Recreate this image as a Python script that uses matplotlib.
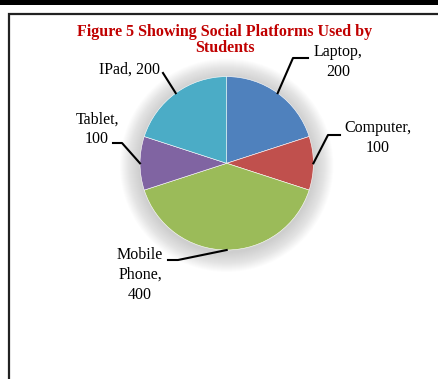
import matplotlib.pyplot as plt
import numpy as np
from matplotlib.patches import Circle, Rectangle

# data
labels = ['Laptop', 'Computer', 'Mobile\nPhone', 'Tablet', 'IPad']
values = [200, 100, 400, 100, 200]
colors = ['#4F81BD', '#C0504D', '#9BBB59', '#8064A2', '#4BACC6']
title_lines = ['Figure 5 Showing Social Platforms Used by', 'Students']

W, H = 439, 379
fig = plt.figure(figsize=(W / 100, H / 100), dpi=100)
ax = fig.add_axes([0, 0, 1, 1])
ax.set_xlim(0, W)
ax.set_ylim(0, H)
ax.set_aspect('equal')
ax.axis('off')

def Y(y):
    # pixel row from top -> data y
    return H - y

# page decoration: black band + frame
ax.add_patch(Rectangle((0, Y(4.5)), W, 4.5, color='black', lw=0))
ax.plot([9, 9, W + 5], [Y(H + 5), Y(14), Y(14)], color='#222222', lw=1.6,
        solid_joinstyle='miter')

cx, cy, r = 226.7, Y(163.3), 86.7

# soft glow behind the pie
for k in range(20):
    ax.add_patch(Circle((cx, cy - 2), r + 20 - k, color='#808080',
                        alpha=0.018, lw=0))

wedges, _ = ax.pie(values, colors=colors, startangle=90, counterclock=False,
                   center=(cx, cy), radius=r,
                   wedgeprops=dict(edgecolor='white', linewidth=0.4))
ax.set_xlim(0, W)
ax.set_ylim(0, H)

# label layout: (elbow point, line end, text position)
layout = [
    ((293, 58), (308, 58), (338, 62)),
    ((328, 135), (340, 135), (378, 138)),
    ((178, 260), (168, 260), (140, 275)),
    ((122, 143), (113, 143), (97, 129)),
    ((163, 73), (163, 73), (130, 70)),
]

font = dict(family='Liberation Serif', fontsize=11.5, color='black')
for w, lab, v, (elb, end, tp) in zip(wedges, labels, values, layout):
    mid = np.deg2rad((w.theta1 + w.theta2) / 2)
    ex, ey = cx + r * np.cos(mid), cy + r * np.sin(mid)
    ax.plot([ex, elb[0], end[0]], [ey, Y(elb[1]), Y(end[1])],
            color='black', lw=1.5)
    if lab == 'IPad':
        txt = f'{lab}, {v}'
    else:
        txt = f'{lab},\n{v}'
    ax.text(tp[0], Y(tp[1]), txt, ha='center', va='center',
            linespacing=1.3, **font)

for line, ty in zip(title_lines, [31.5, 48]):
    ax.text(225, Y(ty), line, ha='center', va='center', color='#C00000',
            fontsize=11.5, fontweight='bold', family='Liberation Serif')

fig.savefig('out.png', dpi=100)
